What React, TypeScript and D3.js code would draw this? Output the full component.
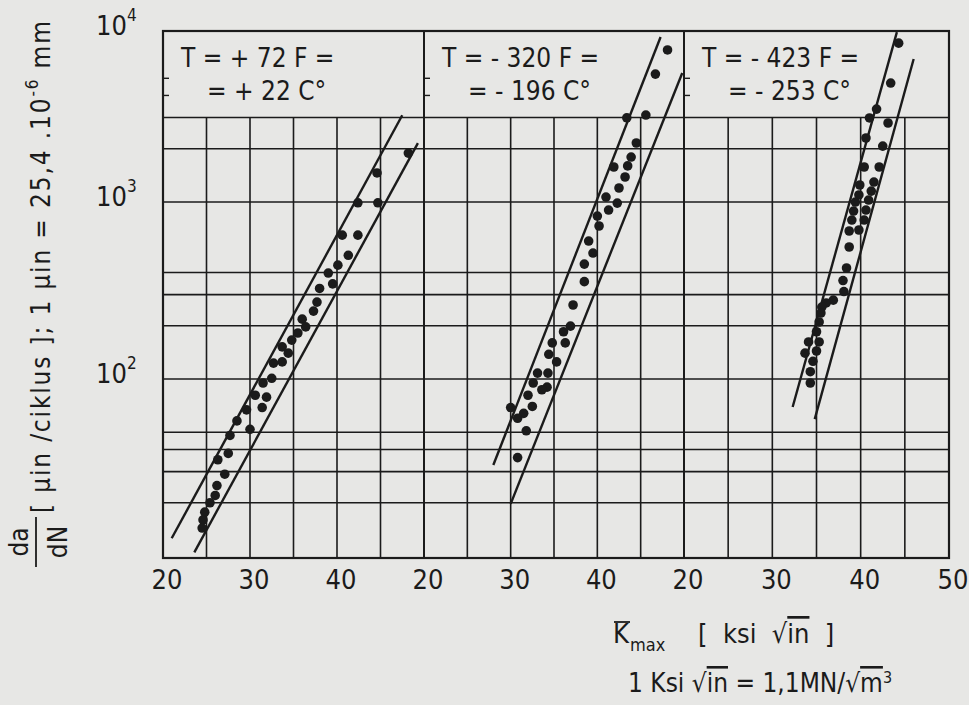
import React, { useEffect, useRef } from "react";
import * as d3 from "d3";

const WIDTH = 969;
const HEIGHT = 705;
const PANEL_EDGES = [163, 424, 684, 949];
const TOP = 31;
const BOTTOM = 558;
const INK = "#1b1b1b";
const PAPER = "#e7e7e5";
const FONT = "'DejaVu Sans Condensed', 'Liberation Sans Narrow', 'DejaVu Sans', sans-serif";

const K_DOMAIN = [20, 50];
const RATE_DOMAIN = [9.75, 9250];
const K_GRID = [25, 30, 35, 40, 45];
const K_TICKS = [20, 30, 40];
const RATE_GRID = [20, 30, 40, 50, 100, 200, 300, 400, 1000, 2000, 3000];
const RATE_STUBS = [4000, 5000];
const RATE_EXPONENTS = [2, 3, 4];

const PANEL_TITLES = [
  ["T = + 72 F =", "= + 22 C°"],
  ["T = - 320 F =", "= - 196 C°"],
  ["T = - 423 F =", "= - 253 C°"],
];

// [K max (ksi sqrt in), da/dN (uin/cycle)]
const DOTS_22C = [
  [48.2, 1890], [44.6, 1460], [42.4, 990], [44.7, 990], [40.6, 650], [42.4, 650],
  [41.3, 500], [40.1, 440], [39.0, 397], [39.5, 345], [38.0, 325], [37.7, 272],
  [37.3, 242], [36.0, 218], [36.4, 197], [35.5, 182], [34.8, 166], [33.7, 152],
  [34.4, 140], [33.7, 125], [32.7, 123], [32.5, 101], [31.5, 95], [30.6, 81],
  [31.9, 79], [29.6, 67], [31.4, 69], [28.5, 58], [30.0, 52], [27.7, 48],
  [27.5, 38], [26.3, 35], [27.1, 29], [26.2, 25], [26.0, 22], [25.4, 20],
  [24.8, 17.7], [24.6, 16], [24.5, 14.4],
];
const DOTS_196C = [
  [48.1, 7230], [46.7, 5280], [45.6, 3100], [43.4, 2990], [44.5, 2155], [43.9, 1795],
  [43.5, 1600], [41.9, 1577], [43.2, 1385], [42.5, 1200], [41.0, 1067], [42.3, 986],
  [41.3, 901], [40.0, 833], [40.2, 732], [39.0, 602], [39.5, 515], [38.5, 446],
  [38.5, 355], [37.2, 262], [36.9, 199], [36.1, 185], [36.3, 160], [34.8, 160],
  [34.4, 138], [35.3, 125], [33.1, 108], [34.3, 108], [32.6, 95], [34.2, 90],
  [33.6, 87], [32.0, 81], [32.5, 70], [30.0, 69], [31.5, 64], [30.8, 60],
  [31.8, 51], [30.8, 36],
];
const DOTS_253C = [
  [44.3, 7900], [43.4, 4700], [41.8, 3350], [41.0, 2985], [43.1, 2795], [40.6, 2300],
  [42.5, 2070], [40.4, 1577], [42.1, 1577], [39.9, 1248], [41.5, 1297], [41.2, 1153],
  [39.8, 1096], [39.4, 1000], [40.9, 1026], [40.6, 901], [39.2, 889], [40.4, 791],
  [39.0, 791], [39.8, 695], [38.7, 686], [38.7, 557], [38.4, 424], [38.0, 360],
  [38.1, 312], [36.9, 279], [36.1, 269], [35.6, 255], [35.5, 236], [35.3, 210],
  [35.0, 185], [34.1, 162], [35.3, 162], [33.7, 140], [35.0, 144], [34.6, 126],
  [34.3, 110], [34.3, 95],
];
const PANEL_DOTS = [DOTS_22C, DOTS_196C, DOTS_253C];

// scatter band limits, two end points each
const BAND_22C = [
  [[21.0, 12.6], [47.5, 3090]],
  [[23.6, 10.5], [49.3, 2150]],
];
const BAND_196C = [
  [[28.0, 32.7], [47.3, 8550]],
  [[30.0, 19.7], [49.8, 5360]],
];
const BAND_253C = [
  [[32.3, 69.5], [44.1, 9120]],
  [[34.8, 59.4], [46.0, 6430]],
];
const PANEL_BANDS = [BAND_22C, BAND_196C, BAND_253C];

export default function App() {
  const ref = useRef<SVGSVGElement | null>(null);

  useEffect(() => {
    const svg = d3.select(ref.current);
    svg.selectAll("*").remove();

    const yScale = d3.scaleLog().domain(RATE_DOMAIN).range([BOTTOM, TOP]);
    const xScales = [0, 1, 2].map((i) =>
      d3.scaleLinear().domain(K_DOMAIN).range([PANEL_EDGES[i], PANEL_EDGES[i + 1]])
    );

    svg.append("rect").attr("width", WIDTH).attr("height", HEIGHT).attr("fill", PAPER);

    const grid = svg.append("g").attr("stroke", INK).attr("fill", "none");
    // horizontal grid across all panels
    RATE_GRID.forEach((v) => {
      grid
        .append("line")
        .attr("x1", PANEL_EDGES[0])
        .attr("x2", PANEL_EDGES[3])
        .attr("y1", yScale(v))
        .attr("y2", yScale(v))
        .attr("stroke-width", 1.6);
    });

    xScales.forEach((x, i) => {
      K_GRID.forEach((k) => {
        grid
          .append("line")
          .attr("x1", x(k))
          .attr("x2", x(k))
          .attr("y1", yScale(3000))
          .attr("y2", BOTTOM)
          .attr("stroke-width", 1.6);
      });
      // little marks on the left edge of each panel
      RATE_STUBS.forEach((v) => {
        grid
          .append("line")
          .attr("x1", PANEL_EDGES[i])
          .attr("x2", PANEL_EDGES[i] + 6)
          .attr("y1", yScale(v))
          .attr("y2", yScale(v))
          .attr("stroke-width", 1.4);
      });
      if (i > 0) {
        grid
          .append("line")
          .attr("x1", PANEL_EDGES[i])
          .attr("x2", PANEL_EDGES[i])
          .attr("y1", TOP)
          .attr("y2", BOTTOM)
          .attr("stroke-width", 2);
      }
    });

    grid
      .append("rect")
      .attr("x", PANEL_EDGES[0])
      .attr("y", TOP)
      .attr("width", PANEL_EDGES[3] - PANEL_EDGES[0])
      .attr("height", BOTTOM - TOP)
      .attr("stroke-width", 2.2);

    // bands and dots
    xScales.forEach((x, i) => {
      const line = d3
        .line<number[]>()
        .x((d) => x(d[0]))
        .y((d) => yScale(d[1]));
      PANEL_BANDS[i].forEach((seg) => {
        svg
          .append("path")
          .attr("d", line(seg))
          .attr("fill", "none")
          .attr("stroke", INK)
          .attr("stroke-width", 2.4);
      });
      svg
        .append("g")
        .selectAll("circle")
        .data(PANEL_DOTS[i])
        .join("circle")
        .attr("cx", (d) => x(d[0]))
        .attr("cy", (d) => yScale(d[1]))
        .attr("r", 4.8)
        .attr("fill", INK);

      // panel title
      const title = svg
        .append("text")
        .attr("font-family", FONT)
        .attr("font-size", 26)
        .attr("fill", INK);
      title
        .append("tspan")
        .attr("x", PANEL_EDGES[i] + 18)
        .attr("y", 67)
        .text(PANEL_TITLES[i][0]);
      title
        .append("tspan")
        .attr("x", PANEL_EDGES[i] + 44)
        .attr("y", 100)
        .text(PANEL_TITLES[i][1]);

      // x tick labels
      const ticks = i === 2 ? [...K_TICKS, 50] : K_TICKS;
      ticks.forEach((k) => {
        svg
          .append("text")
          .attr("x", x(k) + 4)
          .attr("y", 589)
          .attr("text-anchor", "middle")
          .attr("font-family", FONT)
          .attr("font-size", 27)
          .attr("fill", INK)
          .text(k);
      });
    });

    // y tick labels
    RATE_EXPONENTS.forEach((e) => {
      const t = svg
        .append("text")
        .attr("x", 96)
        .attr("y", Math.max(yScale(Math.pow(10, e)) + 4, 35))
        .attr("font-family", FONT)
        .attr("font-size", 27)
        .attr("fill", INK);
      t.append("tspan").text("10");
      t.append("tspan").attr("dy", -14).attr("font-size", 17).text(e);
    });

    // y axis title
    const yt = svg
      .append("text")
      .attr("transform", "translate(50,513) rotate(-90)")
      .attr("font-family", FONT)
      .attr("font-size", 26)
      .attr("textLength", 492)
      .attr("lengthAdjust", "spacing")
      .attr("fill", INK);
    yt.append("tspan").text("[ µin /ciklus ];  1 µin = 25,4 .10");
    yt.append("tspan").attr("dy", -12).attr("font-size", 17).text("-6");
    yt.append("tspan").attr("dy", 12).text("   mm");

    const frac = svg
      .append("g")
      .attr("transform", "translate(0,542) rotate(-90)")
      .attr("font-family", FONT)
      .attr("font-size", 26)
      .attr("fill", INK);
    frac.append("text").attr("x", 0).attr("y", 28).attr("text-anchor", "middle").text("da");
    frac.append("text").attr("x", 0).attr("y", 67).attr("text-anchor", "middle").text("dN");
    frac
      .append("line")
      .attr("x1", -25)
      .attr("x2", 25)
      .attr("y1", 36)
      .attr("y2", 36)
      .attr("stroke", INK)
      .attr("stroke-width", 1.8);

    // x axis title
    const xt = svg.append("g").attr("font-family", FONT).attr("fill", INK);
    xt.append("text").attr("x", 613).attr("y", 643).attr("font-size", 27).text("K");
    xt.append("line")
      .attr("x1", 614)
      .attr("x2", 630)
      .attr("y1", 622)
      .attr("y2", 622)
      .attr("stroke", INK)
      .attr("stroke-width", 1.8);
    xt.append("text").attr("x", 630).attr("y", 651).attr("font-size", 18).text("max");
    const unit = xt
      .append("text")
      .attr("x", 698)
      .attr("y", 643)
      .attr("font-size", 27)
      .attr("xml:space", "preserve")
      .style("white-space", "pre");
    unit.append("tspan").text("[  ksi  √");
    unit.append("tspan").attr("text-decoration", "overline").text("in");
    unit.append("tspan").text("  ]");

    const conv = xt.append("text").attr("x", 628).attr("y", 692).attr("font-size", 26);
    conv.append("tspan").text("1 Ksi √");
    conv.append("tspan").attr("text-decoration", "overline").text("in");
    conv.append("tspan").text(" = 1,1MN/√");
    conv.append("tspan").attr("text-decoration", "overline").text("m");
    conv.append("tspan").attr("dy", -9).attr("font-size", 16).text("3");
  }, []);

  return (
    <svg
      ref={ref}
      width={WIDTH}
      height={HEIGHT}
      style={{ position: "absolute", left: 0, top: 0, display: "block" }}
    />
  );
}
